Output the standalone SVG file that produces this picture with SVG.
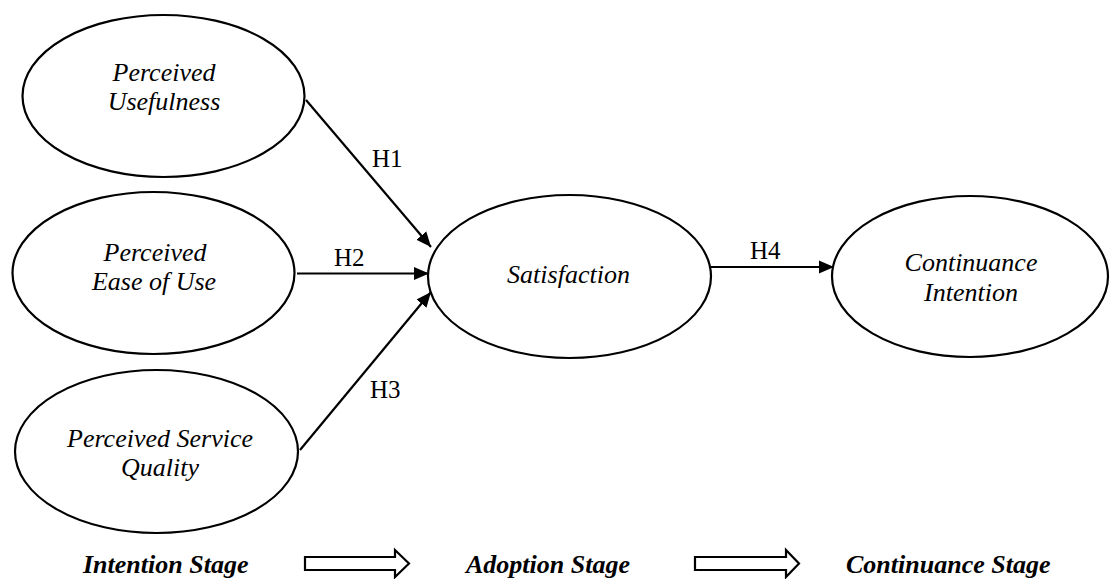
<svg xmlns="http://www.w3.org/2000/svg" width="1110" height="579" viewBox="0 0 1110 579">
<style>
.node ellipse{fill:#fff;stroke:#000;stroke-width:2.2}
.lbl{font-family:"Liberation Serif","Times New Roman",serif;font-style:italic;font-size:26px;text-anchor:middle;fill:#000}
.h{font-family:"Liberation Serif","Times New Roman",serif;font-size:25px;fill:#000}
.stage{font-family:"Liberation Serif","Times New Roman",serif;font-style:italic;font-weight:bold;font-size:26px;fill:#000}
.conn line{stroke:#000;stroke-width:2.2;marker-end:url(#ah)}
.hollow{fill:#fff;stroke:#000;stroke-width:2.2;stroke-linejoin:miter}
</style>
<defs>
<marker id="ah" markerUnits="userSpaceOnUse" markerWidth="16" markerHeight="16" viewBox="0 0 16 16" refX="15" refY="8" orient="auto">
<path d="M0,1.5 L15,8 L0,14.5 Z" fill="#000"/>
</marker>
</defs>
<rect width="1110" height="579" fill="#fff"/>
<g id="connectors" class="conn">
<line x1="306" y1="100" x2="431" y2="247"/>
<line x1="297" y1="273.5" x2="429" y2="273.5"/>
<line x1="300" y1="450" x2="431" y2="292"/>
<line x1="711" y1="267" x2="834" y2="267"/>
</g>
<g id="n-pu" class="node">
<ellipse cx="163.5" cy="96" rx="141" ry="81"/>
<text class="lbl" x="164" y="81">Perceived</text>
<text class="lbl" x="164" y="110">Usefulness</text>
</g>
<g id="n-peou" class="node">
<ellipse cx="153.5" cy="273" rx="141" ry="81"/>
<text class="lbl" x="155" y="261">Perceived</text>
<text class="lbl" x="154" y="290">Ease of Use</text>
</g>
<g id="n-psq" class="node">
<ellipse cx="156.5" cy="451.5" rx="141.5" ry="81.5"/>
<text class="lbl" x="160" y="447">Perceived Service</text>
<text class="lbl" x="160" y="476">Quality</text>
</g>
<g id="n-sat" class="node">
<ellipse cx="569.5" cy="276.5" rx="141.5" ry="81.5"/>
<text class="lbl" x="568.5" y="283">Satisfaction</text>
</g>
<g id="n-ci" class="node">
<ellipse cx="970" cy="276.5" rx="138" ry="80.5"/>
<text class="lbl" x="971" y="271">Continuance</text>
<text class="lbl" x="971" y="301">Intention</text>
</g>
<g id="labels">
<text class="h" x="372" y="167">H1</text>
<text class="h" x="334" y="266">H2</text>
<text class="h" x="370" y="398">H3</text>
<text class="h" x="750" y="259">H4</text>
</g>
<g id="stages">
<text class="stage" x="83" y="573">Intention Stage</text>
<path class="hollow" d="M305,557 L395,557 L395,550 L409,563.5 L395,577 L395,570 L305,570 Z"/>
<text class="stage" x="466" y="573">Adoption Stage</text>
<path class="hollow" d="M695,557 L786,557 L786,550 L799,563.5 L786,577 L786,570 L695,570 Z"/>
<text class="stage" x="846" y="573">Continuance Stage</text>
</g>
</svg>
